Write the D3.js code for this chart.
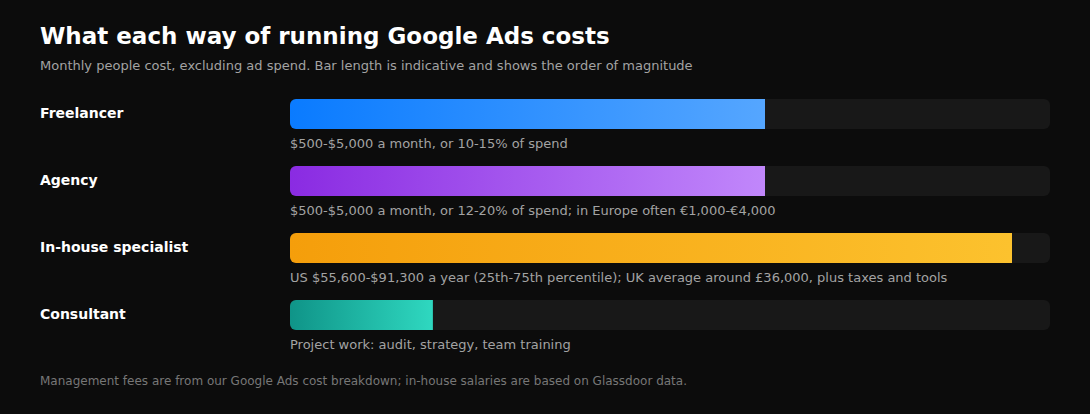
<!DOCTYPE html>
<html>
<head>
<meta charset="utf-8">
<script src="https://cdn.jsdelivr.net/npm/d3@7"></script>
<style>
  body { margin: 0; background: #0c0c0c; }
  svg { display: block; font-family: "DejaVu Sans", sans-serif; }
</style>
</head>
<body>
<div id="chart-area"></div>
<script>
/* Data */
const roles = ["Freelancer", "Agency", "In-house specialist", "Consultant"]
const magnitude = [62.5, 62.5, 95, 18.8]   // indicative bar length, % of track
const notes = [
    "$500-$5,000 a month, or 10-15% of spend",
    "$500-$5,000 a month, or 12-20% of spend; in Europe often €1,000-€4,000",
    "US $55,600-$91,300 a year (25th-75th percentile); UK average around £36,000, plus taxes and tools",
    "Project work: audit, strategy, team training"
]
const colorFrom = ["#0a7bff", "#8a2be2", "#f59e0b", "#0f9488"]
const colorTo = ["#55a6ff", "#c187fb", "#fcc22e", "#2fd8c0"]

const WIDTH = 1090
const HEIGHT = 414
const MARGIN = { LEFT: 40, TOP: 99 }

const svg = d3.select("#chart-area").append("svg")
    .attr("width", WIDTH)
    .attr("height", HEIGHT)

svg.append("rect")
    .attr("width", WIDTH)
    .attr("height", HEIGHT)
    .attr("fill", "#0c0c0c")

// title + subtitle
svg.append("text")
    .attr("x", 40).attr("y", 44)
    .attr("fill", "#ffffff")
    .attr("font-size", 23)
    .attr("font-weight", "bold")
    .text("What each way of running Google Ads costs")

svg.append("text")
    .attr("x", 40).attr("y", 70)
    .attr("fill", "#a3a3a3")
    .attr("font-size", 13)
    .text("Monthly people cost, excluding ad spend. Bar length is indicative and shows the order of magnitude")

// scales
const x = d3.scaleLinear()
    .domain([0, 100])
    .range([290, 1050])

const y = d3.scaleBand()
    .domain(roles)
    .range([MARGIN.TOP, MARGIN.TOP + 67 * roles.length])
    .paddingInner(0)

const barH = 30

const defs = svg.append("defs")
roles.forEach((r, i) => {
    const grad = defs.append("linearGradient")
        .attr("id", "grad-" + i)
        .attr("x1", "0%").attr("x2", "100%")
        .attr("y1", "0%").attr("y2", "0%")
    grad.append("stop").attr("offset", "0%").attr("stop-color", colorFrom[i])
    grad.append("stop").attr("offset", "100%").attr("stop-color", colorTo[i])

    defs.append("clipPath").attr("id", "clip-" + i)
        .append("rect")
        .attr("x", x(0))
        .attr("y", y(r))
        .attr("width", x(100) - x(0))
        .attr("height", barH)
        .attr("rx", 6)
})

const rows = svg.selectAll("g.row")
    .data(roles)
    .enter().append("g")
    .attr("class", "row")

// labels
rows.append("text")
    .attr("x", MARGIN.LEFT)
    .attr("y", d => y(d) + 19)
    .attr("fill", "#ffffff")
    .attr("font-size", 14)
    .attr("font-weight", "bold")
    .text(d => d)

// track
rows.append("rect")
    .attr("x", x(0))
    .attr("y", d => y(d))
    .attr("width", x(100) - x(0))
    .attr("height", barH)
    .attr("rx", 6)
    .attr("fill", "#181818")

// bar
rows.append("rect")
    .attr("x", x(0))
    .attr("y", d => y(d))
    .attr("width", (d, i) => x(magnitude[i]) - x(0))
    .attr("height", barH)
    .attr("clip-path", (d, i) => "url(#clip-" + i + ")")
    .attr("fill", (d, i) => "url(#grad-" + i + ")")

// note under bar
rows.append("text")
    .attr("x", x(0))
    .attr("y", d => y(d) + 49)
    .attr("fill", "#a3a3a3")
    .attr("font-size", 13)
    .text((d, i) => notes[i])

// footer
svg.append("text")
    .attr("x", 40).attr("y", 385)
    .attr("fill", "#777777")
    .attr("font-size", 12)
    .text("Management fees are from our Google Ads cost breakdown; in-house salaries are based on Glassdoor data.")
</script>
</body>
</html>
